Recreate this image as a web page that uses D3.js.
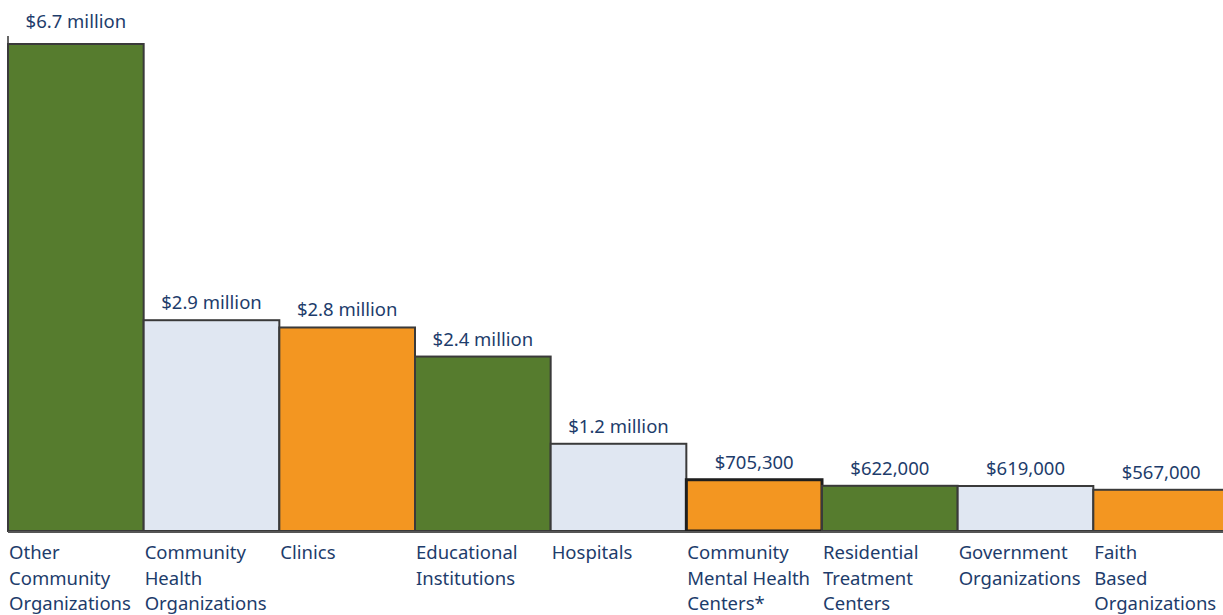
<!DOCTYPE html>
<html>
<head>
<meta charset="utf-8">
<script src="https://cdn.jsdelivr.net/npm/d3@7"></script>
<style>
  body { margin: 0; background: #fff; }
  text { font-family: "Noto Sans", "Open Sans", sans-serif; fill: #1d3c6b; }
</style>
</head>
<body>
<script>
// data
var categories = [
  ["Other", "Community", "Organizations"],
  ["Community", "Health", "Organizations"],
  ["Clinics"],
  ["Educational", "Institutions"],
  ["Hospitals"],
  ["Community", "Mental Health", "Centers*"],
  ["Residential", "Treatment", "Centers"],
  ["Government", "Organizations"],
  ["Faith", "Based", "Organizations"]
];
var values = [6700000, 2900000, 2800000, 2400000, 1200000, 705300, 622000, 619000, 567000];
var valueLabels = ["$6.7 million", "$2.9 million", "$2.8 million", "$2.4 million", "$1.2 million",
                   "$705,300", "$622,000", "$619,000", "$567,000"];
var colors = ["#567c2e", "#e0e7f2", "#f39621"];

var width = 1223, height = 615;
var baseY = 531;

var svg = d3.select("body").append("svg")
    .attr("width", width)
    .attr("height", height);

// setup x
var xScale = d3.scaleBand()
    .domain(d3.range(values.length))
    .range([8, 1229])
    .padding(0);

// setup y
var yScale = d3.scaleLinear()
    .domain([0, 6700000])
    .range([baseY, 44]);

// axis stub on the left
svg.append("line")
    .attr("x1", 8).attr("x2", 8)
    .attr("y1", 36).attr("y2", baseY)
    .style("stroke", "#333").style("stroke-width", 1.5);

// bars
svg.selectAll("rect.bar")
    .data(values)
    .enter().append("rect")
    .attr("class", "bar")
    .attr("x", function (d, i) { return xScale(i); })
    .attr("width", xScale.bandwidth())
    .attr("y", function (d) { return yScale(d); })
    .attr("height", function (d) { return baseY - yScale(d); })
    .style("fill", function (d, i) { return colors[i % 3]; })
    .style("stroke", function (d, i) { return i == 5 ? "#1e1e1e" : "#3a3a3a"; })
    .style("stroke-width", function (d, i) { return i == 5 ? 3 : 2; });

// baseline
svg.append("line")
    .attr("x1", 8).attr("x2", width)
    .attr("y1", baseY + 1).attr("y2", baseY + 1)
    .style("stroke", "#555").style("stroke-width", 2);

// value labels (top one sits a bit higher, like the original)
svg.selectAll("text.value")
    .data(values)
    .enter().append("text")
    .attr("class", "value")
    .attr("x", function (d, i) { return xScale(i) + xScale.bandwidth() / 2; })
    .attr("y", function (d, i) { return yScale(d) - (i == 0 ? 16 : 11); })
    .style("text-anchor", "middle")
    .style("font-size", "18.5px")
    .text(function (d, i) { return valueLabels[i]; });

// category labels
var cat = svg.selectAll("text.cat")
    .data(categories)
    .enter().append("text")
    .attr("class", "cat")
    .attr("x", function (d, i) { return xScale(i) + 1; })
    .attr("y", 559)
    .style("font-size", "18.5px");

cat.selectAll("tspan")
    .data(function (d) { return d; })
    .enter().append("tspan")
    .attr("x", function () { return d3.select(this.parentNode).attr("x"); })
    .attr("dy", function (d, j) { return j == 0 ? 0 : 25.5; })
    .text(function (d) { return d; });
</script>
</body>
</html>
